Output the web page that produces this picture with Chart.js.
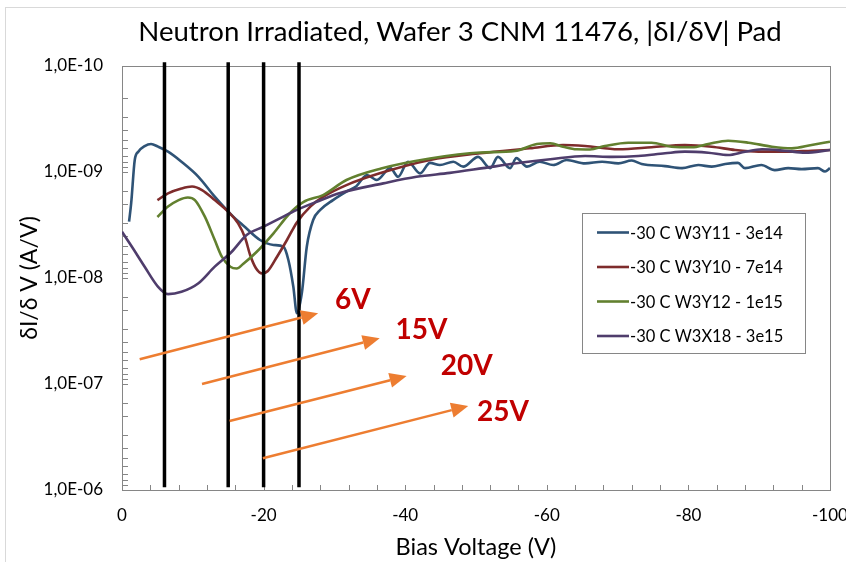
<!DOCTYPE html>
<html>
<head>
<meta charset="utf-8">
<script src="https://cdn.jsdelivr.net/npm/chart.js@4.4.1/dist/chart.umd.min.js"></script>
<style>
  html, body { margin: 0; padding: 0; background: #fff; }
</style>
</head>
<body>
<canvas id="dIdV" width="846" height="562"></canvas>
<script>
// |dI/dV| vs bias, neutron irradiated pads (wafer 3, CNM 11476), -30 C
const volts_W3Y11 = [-1.0, -1.3, -1.8, -2.3, -3.2, -4.1, -5.1, -6.5, -8.4, -10.8, -13.1, -15.5, -17.2, -19.5, -21.4, -22.8,
  -23.5, -24.2, -24.7, -25.4, -26.1, -27.0, -28.0, -29.8, -31.7, -33.1, -34.6, -36.0, -37.9, -39.0, -40.4, -42.1,
  -43.5, -44.9, -46.8, -48.2, -50.3, -52.0, -53.1, -54.8, -55.7, -57.2, -59.0, -60.9, -62.8, -65.4, -67.8, -70.1,
  -72.0, -73.4, -76.7, -79.1, -81.4, -83.3, -85.2, -87.0, -88.0, -90.3, -92.2, -94.1, -96.0, -98.3, -99.3, -100];
const dIdV_W3Y11 = [2.94e-9, 1.96e-9, 7.7e-10, 6.43e-10, 5.69e-10, 5.44e-10, 5.77e-10, 6.43e-10, 8.0e-10, 1.11e-9, 1.71e-9, 2.55e-9, 3.23e-9, 4.38e-9, 4.88e-9, 5.07e-9,
  6.76e-9, 1.21e-8, 2.15e-8, 1.39e-8, 5.07e-9, 2.84e-9, 2.28e-9, 1.84e-9, 1.53e-9, 1.36e-9, 1.07e-9, 1.19e-9, 9.2e-10, 1.11e-9, 8.0e-10, 1.03e-9,
  8.2e-10, 8.6e-10, 8.0e-10, 8.9e-10, 7.2e-10, 9.2e-10, 7.2e-10, 9.2e-10, 7.4e-10, 8.9e-10, 8.0e-10, 8.6e-10, 7.7e-10, 8.3e-10, 8.0e-10, 8.3e-10,
  7.8e-10, 8.4e-10, 8.8e-10, 9.2e-10, 8.6e-10, 8.9e-10, 8.4e-10, 8.2e-10, 9.2e-10, 8.6e-10, 9.6e-10, 9.2e-10, 9.4e-10, 9.2e-10, 9.9e-10, 9.2e-10];

const volts_W3Y10 = [-5, -6.5, -8.4, -9.9, -11.3, -13.1, -15.0, -16.4, -17.4, -18.1, -18.9, -19.8, -20.6, -21.9, -23.3, -24.7, -26.6,
  -28.4, -31.7, -36.4, -43.5, -50.6, -57.6, -62.3, -65.4, -70.1, -74.8, -79.5, -83.3, -86.6, -89.9, -93.6, -97.4, -100];
const dIdV_W3Y10 = [1.84e-9, 1.59e-9, 1.43e-9, 1.37e-9, 1.48e-9, 1.84e-9, 2.37e-9, 3.05e-9, 4.2e-9, 6.07e-9, 8.05e-9, 9.07e-9, 8.59e-9, 6.3e-9, 4.38e-9, 2.99e-9, 2.12e-9,
  1.72e-9, 1.33e-9, 1.03e-9, 7.7e-10, 6.66e-10, 5.98e-10, 5.56e-10, 5.69e-10, 6.11e-10, 5.85e-10, 5.56e-10, 5.77e-10, 6.2e-10, 6.43e-10, 6.43e-10, 6.3e-10, 6.2e-10];

const volts_W3Y12 = [-5, -6.5, -8.0, -9.3, -10.3, -11.7, -13.1, -14.1, -15.3, -16.2, -17.1, -19.0, -21.4, -23.7, -25.6, -28.4, -31.7, -36.6, -43.5,
  -50.6, -55.5, -58.6, -60.5, -62.3, -64.2, -66.1, -68.2, -71.5, -74.8, -77.6, -80.5, -82.8, -85.6, -88.5, -91.8, -94.6, -97.4, -100];
const dIdV_W3Y12 = [2.66e-9, 2.12e-9, 1.84e-9, 1.74e-9, 1.84e-9, 2.64e-9, 4.38e-9, 6.3e-9, 7.82e-9, 8.13e-9, 7.38e-9, 5.69e-9, 3.79e-9, 2.45e-9, 1.92e-9, 1.65e-9, 1.19e-9, 9.27e-10, 7.46e-10,
  6.55e-10, 6.34e-10, 5.44e-10, 5.36e-10, 5.77e-10, 6.11e-10, 6.13e-10, 5.69e-10, 5.29e-10, 5.29e-10, 5.77e-10, 5.85e-10, 5.44e-10, 5.07e-10, 5.29e-10, 5.77e-10, 5.98e-10, 5.56e-10, 5.18e-10];

const volts_W3X18 = [0, -1.4, -3.2, -5.1, -6.5, -8.4, -10.8, -13.1, -15.5, -17.6, -20.0, -22.3, -24.7, -27.5, -30.8, -36.9, -41.6,
  -46.3, -51.0, -55.7, -60.5, -65.4, -69.2, -72.9, -76.7, -79.5, -82.8, -85.6, -88.0, -90.4, -93.6, -96.5, -100];
const dIdV_W3X18 = [3.66e-9, 5.07e-9, 7.82e-9, 1.21e-8, 1.42e-8, 1.35e-8, 1.12e-8, 7.82e-9, 5.65e-9, 3.93e-9, 3.28e-9, 2.74e-9, 2.28e-9, 1.91e-9, 1.58e-9, 1.28e-9, 1.11e-9,
  1.02e-9, 9.2e-10, 8.28e-10, 7.59e-10, 7.06e-10, 7.2e-10, 7.06e-10, 6.66e-10, 6.43e-10, 6.58e-10, 6.91e-10, 6.43e-10, 6.11e-10, 6.3e-10, 6.58e-10, 6.2e-10];

// depletion voltages marked with vertical lines
const markerVolts = [6, 15, 20, 25];
const markerTop = 9.2e-11, markerBottom = 9.4e-7;

// axis ticks
const xLabelValues = [0, -20, -40, -60, -80, -100];
const yDecades = [1e-10, 1e-9, 1e-8, 1e-7, 1e-6];

// arrows pointing from the lines to their labels: [x, y] in data units
const arrowFrom = [[-2.5, 5.85e-8], [-11.3, 1.0e-7], [-15.2, 2.23e-7], [-19.9, 5.02e-7]];
const arrowTo   = [[-27.7, 2.15e-8], [-36.4, 3.71e-8], [-40.2, 8.41e-8], [-48.9, 1.61e-7]];
const labelAt   = [[-32.6, 1.61e-8], [-42.3, 3.10e-8], [-48.7, 6.76e-8], [-53.8, 1.84e-7]];

const FONT = 'Lato, "Liberation Sans", sans-serif';

const curves = [
  { label: '-30 C W3Y11 - 3e14', color: '#2F5376', xs: volts_W3Y11, ys: dIdV_W3Y11 },
  { label: '-30 C W3Y10 - 7e14', color: '#7E2C2C', xs: volts_W3Y10, ys: dIdV_W3Y10 },
  { label: '-30 C W3Y12 - 1e15', color: '#62802F', xs: volts_W3Y12, ys: dIdV_W3Y12 },
  { label: '-30 C W3X18 - 3e15', color: '#4F3D6C', xs: volts_W3X18, ys: dIdV_W3X18 }
];

function pairs(xs, ys) { return xs.map((x, i) => ({ x: x, y: ys[i] })); }

const datasets = curves.map((c, i) => ({
  label: c.label,
  data: pairs(c.xs, c.ys),
  borderColor: c.color,
  borderWidth: 2.6,
  pointRadius: 0,
  cubicInterpolationMode: 'monotone',
  order: 4 - i
}));
markerVolts.forEach(v => datasets.push({
  label: v + 'V',
  isMarker: true,
  data: [{ x: -v, y: markerTop }, { x: -v, y: markerBottom }],
  borderColor: '#000',
  borderWidth: 3.5,
  pointRadius: 0,
  clip: false,
  order: 0
}));

function isDecade(v) {
  const l = Math.log10(v);
  return Math.abs(l - Math.round(l)) < 1e-6;
}
function sci(v) {
  const e = Math.round(Math.log10(v));
  const a = Math.abs(e);
  return '1,0E' + (e < 0 ? '-' : '+') + (a < 10 ? '0' + a : a);
}

// page frame, title and plot box
const framePlugin = {
  id: 'frame',
  beforeDraw(chart) {
    const ctx = chart.ctx;
    ctx.save();
    ctx.fillStyle = '#fff';
    ctx.fillRect(0, 0, chart.width, chart.height);
    ctx.strokeStyle = '#d9d9d9';
    ctx.lineWidth = 1;
    ctx.strokeRect(5.5, 7.5, 1000, 1000);
    ctx.fillStyle = '#000';
    ctx.font = '27.6px ' + FONT;
    ctx.textAlign = 'center';
    ctx.textBaseline = 'middle';
    ctx.fillText('Neutron Irradiated, Wafer 3 CNM 11476, |\u03B4I/\u03B4V| Pad', 460, 32);
    ctx.restore();
  },
  beforeDatasetsDraw(chart) {
    const { ctx, chartArea: a, scales } = chart;
    ctx.save();
    ctx.strokeStyle = '#868686';
    ctx.lineWidth = 1;
    ctx.beginPath();
    // inner tick marks
    scales.x.ticks.forEach(t => {
      const px = Math.round(scales.x.getPixelForValue(t.value)) + 0.5;
      ctx.moveTo(px, a.bottom);
      ctx.lineTo(px, a.bottom - 5);
    });
    scales.y.ticks.forEach(t => {
      const py = Math.round(scales.y.getPixelForValue(t.value)) + 0.5;
      ctx.moveTo(a.left, py);
      ctx.lineTo(a.left + 6, py);
    });
    ctx.stroke();
    ctx.strokeRect(Math.round(a.left) + 0.5, Math.round(a.top) + 0.5,
      Math.round(a.right - a.left), Math.round(a.bottom - a.top));
    ctx.restore();
  }
};

// orange arrows and voltage labels
const arrowPlugin = {
  id: 'arrows',
  afterDatasetsDraw(chart) {
    const { ctx, scales: { x, y } } = chart;
    ctx.save();
    arrowFrom.forEach((f, i) => {
      const x0 = x.getPixelForValue(f[0]), y0 = y.getPixelForValue(f[1]);
      const x1 = x.getPixelForValue(arrowTo[i][0]), y1 = y.getPixelForValue(arrowTo[i][1]);
      const ang = Math.atan2(y1 - y0, x1 - x0);
      const head = 17, half = 7.5;
      const bx = x1 - head * Math.cos(ang), by = y1 - head * Math.sin(ang);
      ctx.strokeStyle = '#ED7D31';
      ctx.fillStyle = '#ED7D31';
      ctx.lineWidth = 2.5;
      ctx.beginPath();
      ctx.moveTo(x0, y0);
      ctx.lineTo(bx, by);
      ctx.stroke();
      ctx.beginPath();
      ctx.moveTo(x1, y1);
      ctx.lineTo(bx + half * Math.sin(ang), by - half * Math.cos(ang));
      ctx.lineTo(bx - half * Math.sin(ang), by + half * Math.cos(ang));
      ctx.closePath();
      ctx.fill();
    });
    ctx.fillStyle = '#C00000';
    ctx.font = 'bold 28px ' + FONT;
    ctx.textAlign = 'center';
    ctx.textBaseline = 'middle';
    markerVolts.forEach((v, i) => {
      ctx.fillText(v + 'V', x.getPixelForValue(labelAt[i][0]), y.getPixelForValue(labelAt[i][1]));
    });
    ctx.restore();
  }
};

// boxed legend inside the plot
const legendPlugin = {
  id: 'boxLegend',
  afterDraw(chart) {
    const { ctx, chartArea: a } = chart;
    const left = a.right - 248, top = a.top + 147, w = 223, h = 140;
    ctx.save();
    ctx.fillStyle = '#fff';
    ctx.fillRect(left, top, w, h);
    ctx.strokeStyle = '#868686';
    ctx.lineWidth = 1;
    ctx.strokeRect(Math.round(left) + 0.5, Math.round(top) + 0.5, w, h);
    ctx.font = '16.5px ' + FONT;
    ctx.textBaseline = 'middle';
    ctx.textAlign = 'left';
    chart.data.datasets.filter(d => !d.isMarker).forEach((d, i) => {
      const ry = top + 19.5 + i * 34.5;
      ctx.strokeStyle = d.borderColor;
      ctx.lineWidth = 2.6;
      ctx.beginPath();
      ctx.moveTo(left + 15, ry);
      ctx.lineTo(left + 47, ry);
      ctx.stroke();
      ctx.fillStyle = '#000';
      ctx.fillText(d.label, left + 48, ry + 1);
    });
    ctx.restore();
  }
};

new Chart(document.getElementById('dIdV'), {
  type: 'line',
  data: { datasets: datasets },
  plugins: [framePlugin, arrowPlugin, legendPlugin],
  options: {
    responsive: false,
    animation: false,
    layout: { padding: { top: 66, left: 0, right: 0, bottom: 0 } },
    plugins: {
      legend: { display: false },
      title: { display: false },
      tooltip: { enabled: false }
    },
    scales: {
      x: {
        type: 'linear',
        reverse: true,
        min: -100,
        max: 0,
        grid: { display: false, drawTicks: false },
        border: { display: false },
        ticks: {
          stepSize: 4,
          autoSkip: false,
          maxRotation: 0,
          padding: 15,
          color: '#000',
          font: { family: FONT, size: 17 },
          callback: v => xLabelValues.includes(v) ? String(v) : ''
        },
        title: {
          display: true,
          text: 'Bias Voltage (V)',
          color: '#000',
          font: { family: FONT, size: 23.5 },
          padding: { top: 0, bottom: 0 }
        },
        afterFit: s => { s.height = 72; s.paddingLeft = 0; s.paddingRight = 16; }
      },
      y: {
        type: 'logarithmic',
        reverse: true,
        min: 1e-10,
        max: 1e-6,
        grid: { display: false, drawTicks: false },
        border: { display: false },
        ticks: {
          autoSkip: false,
          padding: 19,
          color: '#000',
          font: { family: FONT, size: 17 },
          callback: v => (isDecade(v) && yDecades.some(d => Math.abs(d - v) / d < 1e-6)) ? sci(v) : ''
        },
        title: {
          display: true,
          text: '\u03B4I/\u03B4 V (A/V)',
          color: '#000',
          font: { family: FONT, size: 23 },
          padding: { top: 16, bottom: 0 }
        },
        afterFit: s => { s.width = 122; }
      }
    }
  }
});
</script>
</body>
</html>
